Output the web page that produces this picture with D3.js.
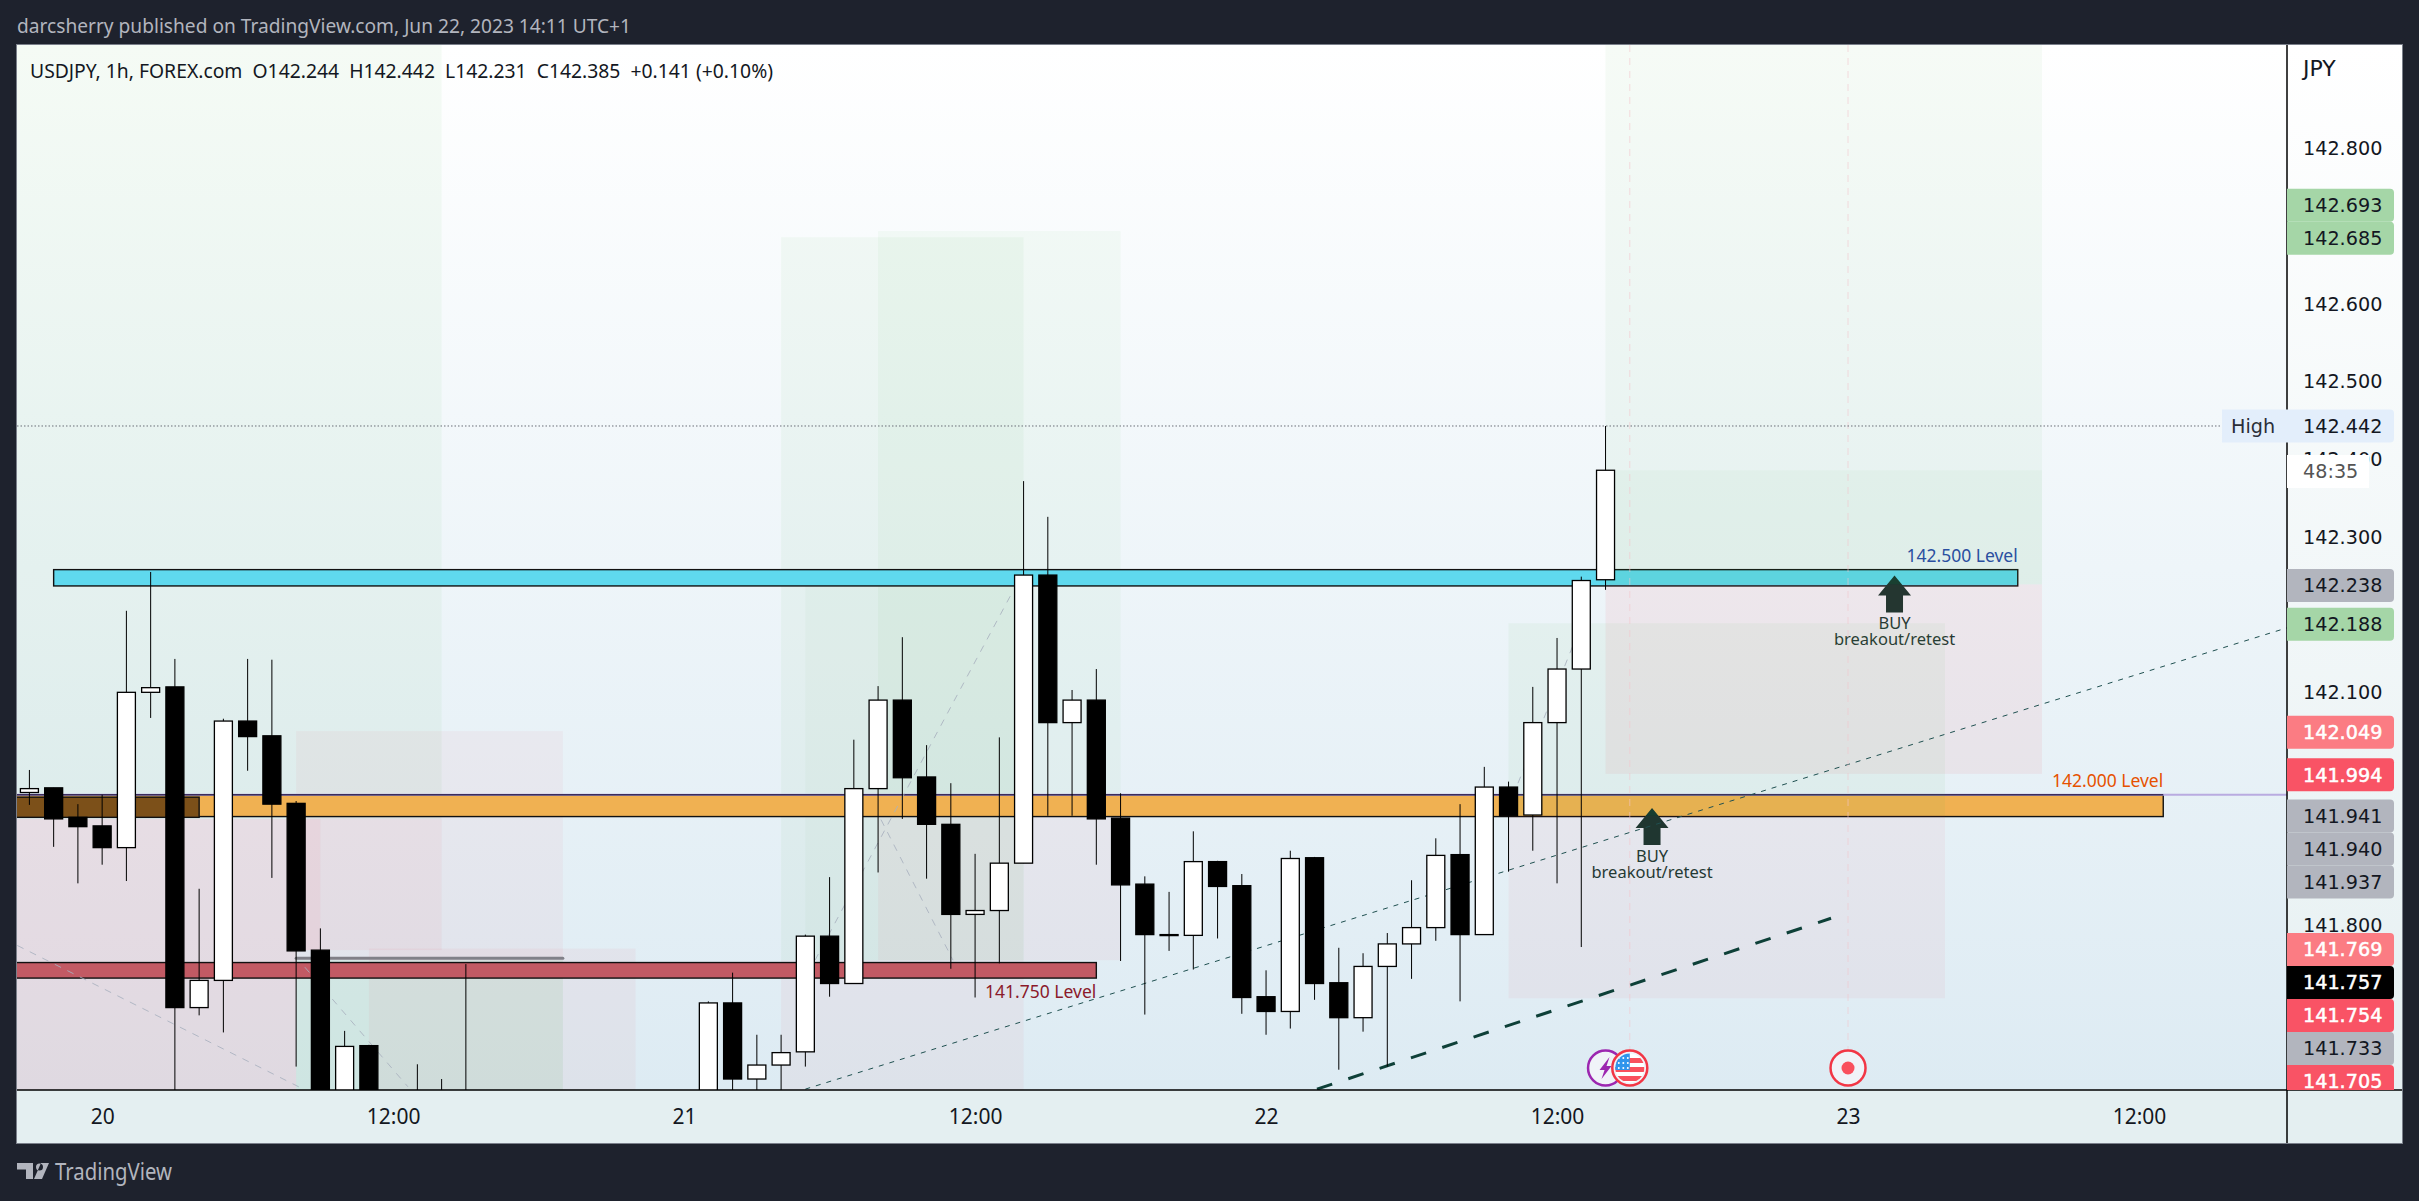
<!DOCTYPE html>
<html><head><meta charset="utf-8">
<script src="https://cdnjs.cloudflare.com/ajax/libs/d3/7.8.5/d3.min.js"></script>
<style>
html,body{margin:0;padding:0;background:#1e222d;overflow:hidden}
svg{display:block}
text{white-space:pre}
</style></head><body>
<svg id="c" width="2419" height="1201"></svg>
<script>
// ---------- data ----------
const opens=[141.970,141.976,141.938,141.927,141.899,142.099,142.106,141.693,141.728,142.062,142.043,141.956,141.767,141.56,141.644,141.56,141.50,141.52,141.50,141.55,141.52,141.49,141.46,141.50,141.53,141.51,141.52,141.54,141.55,141.699,141.601,141.619,141.636,141.785,141.724,141.975,142.089,141.990,141.929,141.813,141.818,141.879,142.250,142.060,142.089,141.937,141.852,141.787,141.786,141.881,141.850,141.707,141.688,141.886,141.725,141.680,141.746,141.775,141.796,141.890,141.787,141.977,141.941,142.060,142.129,142.244];
const highs=[141.999,141.976,141.955,141.967,142.204,142.254,142.142,141.846,142.065,142.142,142.141,141.959,141.795,141.663,141.645,141.575,141.620,141.601,141.749,141.58,141.56,141.53,141.52,141.56,141.57,141.55,141.56,141.58,141.701,141.738,141.658,141.658,141.787,141.861,142.038,142.107,142.170,142.031,141.982,141.891,142.041,142.371,142.325,142.102,142.129,141.969,141.862,141.842,141.920,141.882,141.865,141.741,141.895,141.887,141.770,141.763,141.789,141.857,141.911,141.955,142.003,141.984,142.106,142.169,142.248,142.442];
const lows=[141.954,141.900,141.853,141.877,141.856,142.066,141.55,141.683,141.661,141.998,141.860,141.617,141.53,141.54,141.53,141.47,141.47,141.46,141.48,141.50,141.47,141.44,141.43,141.47,141.49,141.48,141.50,141.51,141.52,141.56,141.56,141.57,141.617,141.707,141.724,141.867,141.936,141.859,141.743,141.706,141.750,141.879,141.940,141.940,141.877,141.753,141.684,141.766,141.742,141.782,141.685,141.658,141.666,141.703,141.613,141.662,141.617,141.730,141.779,141.701,141.787,141.868,141.895,141.853,141.771,142.231];
const closes=[141.975,141.936,141.926,141.899,142.099,142.105,141.693,141.728,142.062,142.042,141.955,141.766,141.56,141.643,141.56,141.50,141.52,141.50,141.55,141.52,141.49,141.46,141.50,141.53,141.51,141.52,141.54,141.55,141.699,141.601,141.619,141.635,141.785,141.724,141.975,142.089,141.989,141.929,141.813,141.818,141.879,142.250,142.060,142.089,141.936,141.851,141.787,141.786,141.881,141.849,141.706,141.688,141.885,141.724,141.680,141.746,141.775,141.796,141.889,141.787,141.977,141.940,142.060,142.129,142.243,142.385];

const timeTickBars=[3,15,27,39,51,63,75,87];
const timeTickLabels=["20","12:00","21","12:00","22","12:00","23","12:00"];
const priceTicks=[142.8,142.6,142.5,142.4,142.3,142.1,141.8];

const tagValues=["142.693","142.685","142.238","142.188","142.049","141.994","141.941","141.940","141.937","141.769","141.757","141.754","141.733","141.705"];
const tagKinds=["target","target","neutral","target","stopSoft","stop","neutral","neutral","neutral","stopSoft","last","stop","neutral","stop"];

// position-tool zones: [barFrom, barTo, priceTop, priceBottom, colour key, opacity]
const zonesBelowBands=[
 [-1,17,142.94,141.936,"g",.055],
 [-1,11,141.936,141.50,"r",.10],
 [11,12,141.936,141.767,"r",.10],
 [12,17,141.936,141.767,"r",.05],
 [11,22,142.049,141.754,"r",.045],
 [11,22,141.754,141.50,"g",.10],
 [14,25,141.769,141.50,"r",.05],
 [31,41,142.685,141.754,"g",.05],
 [31,41,141.754,141.50,"r",.05],
 [32,41,142.238,141.754,"g",.035],
 [35,45,142.693,141.940,"g",.045],
 [35,45,141.940,141.754,"r",.05]
];
const zonesAboveBands=[
 [65,83,142.94,142.238,"g",.05],
 [65,83,142.385,142.238,"g",.04],
 [65,83,142.238,141.994,"r",.07],
 [61,79,142.188,141.940,"g",.055],
 [61,79,141.940,141.705,"r",.05]
];
// horizontal levels: [barFrom, barTo, priceTop, priceBottom, fill]
const levelBands=[
 [-1,88,141.967,141.939,"#f0b152"],
 [-1,7,141.964,141.938,"#7c5019"],
 [-1,44,141.751,141.731,"#c25a64"],
 [1,82,142.257,142.236,"#5fd9ee"]
];
const levelTexts=[
 ["142.500 Level",82,142.273,"#2a4fa0"],
 ["142.000 Level",88,141.983,"#e65100"],
 ["141.750 Level",44,141.712,"#8b1a2b"]
];
const ghostLines=[
 [-0.5,141.773,11.36,141.587],
 [11.36,141.745,15.61,141.591],
 [32.4,141.754,40.52,142.227],
 [35.12,141.935,38.09,141.754],
 [61.39,141.982,63.74,142.166]
];
const trendThin=[32,141.588,93.1,142.182];
const trendThick=[53.1,141.588,74.3,141.808];
const buySignals=[[67,141.950],[77,142.2495]];
const sessionBars=[66,75];
const highPrice=142.442;
const stopLine=[11,22,141.7565];
const axisLevel=141.967;

// ---------- layout ----------
const W=2419,H=1201,L=17,T=45,R=2287,B=1090,FB=1143,FR=2402;
const x=d3.scaleLinear().domain([0,87]).range([29.4,2139]);
const y=d3.scaleLinear().domain([142.8,141.8]).range([148,924.5]);
const svg=d3.select("#c");
const UI="'Noto Sans',sans-serif", NUM="'DejaVu Sans',sans-serif";
const col={g:"#4caf50",r:"#f23645"};

const defs=svg.append("defs");
const mk=(id,a,b)=>{const g=defs.append("linearGradient").attr("id",id).attr("x1",0).attr("x2",0).attr("y1",0).attr("y2",1);
 g.append("stop").attr("offset",0).attr("stop-color",a);g.append("stop").attr("offset",1).attr("stop-color",b);};
mk("pane","#ffffff","#ddebf3");mk("axisbg","#ffffff","#e6f0f2");
defs.append("clipPath").attr("id","plot").append("rect").attr("x",L).attr("y",T).attr("width",R-L).attr("height",B-T);
defs.append("clipPath").attr("id","axclip").append("rect").attr("x",R).attr("y",T).attr("width",FR-R).attr("height",B-T);

// frame and backgrounds
svg.append("rect").attr("width",W).attr("height",H).attr("fill","#1e222d");
svg.append("rect").attr("x",L).attr("y",T).attr("width",R-L).attr("height",B-T).attr("fill","url(#pane)");
svg.append("rect").attr("x",R).attr("y",T).attr("width",FR-R).attr("height",B-T).attr("fill","url(#axisbg)");
svg.append("rect").attr("x",L).attr("y",B).attr("width",FR-L).attr("height",FB-B).attr("fill","#e4eff1");

const plot=svg.append("g").attr("clip-path","url(#plot)");
const drawZones=(arr)=>plot.append("g").selectAll("rect").data(arr).join("rect")
 .attr("x",d=>x(d[0])).attr("width",d=>x(d[1])-x(d[0])).attr("y",d=>y(d[2])).attr("height",d=>y(d[3])-y(d[2]))
 .attr("fill",d=>col[d[4]]).attr("fill-opacity",d=>d[5]);

drawZones(zonesBelowBands);

plot.append("line").attr("x1",x(stopLine[0])).attr("x2",x(stopLine[1])).attr("y1",y(stopLine[2])).attr("y2",y(stopLine[2]))
 .attr("stroke","#808088").attr("stroke-width",3).attr("stroke-linecap","round");

// level bands
plot.append("g").selectAll("rect").data(levelBands).join("rect")
 .attr("x",d=>x(d[0])).attr("width",d=>x(d[1])-x(d[0])).attr("y",d=>y(d[2])).attr("height",d=>y(d[3])-y(d[2]))
 .attr("fill",d=>d[4]).attr("stroke","#111").attr("stroke-width",1.4);
plot.append("line").attr("x1",L).attr("x2",R).attr("y1",y(axisLevel)).attr("y2",y(axisLevel))
 .attr("stroke","#b9abe0").attr("stroke-width",2);
plot.append("line").attr("x1",L).attr("x2",x(88)).attr("y1",y(axisLevel)).attr("y2",y(axisLevel))
 .attr("stroke","#3a2c5c").attr("stroke-width",1.6);

// buy signals
const sig=plot.append("g").selectAll("g").data(buySignals).join("g").attr("transform",d=>`translate(${x(d[0])-2},${y(d[1])})`);
sig.append("path").attr("d","M0,0L16.5,20L8.5,20L8.5,37L-8.5,37L-8.5,20L-16.5,20Z").attr("fill","#15362f");
sig.append("text").attr("y",54).attr("text-anchor","middle").attr("font-family",UI).attr("font-size",16.5).attr("fill","#173a33").text("BUY");
sig.append("text").attr("y",70).attr("text-anchor","middle").attr("font-family",UI).attr("font-size",16.5).attr("fill","#173a33").text("breakout/retest");

drawZones(zonesAboveBands);

// ghost dashed lines and trend lines
plot.append("g").selectAll("line").data(ghostLines).join("line")
 .attr("x1",d=>x(d[0])).attr("y1",d=>y(d[1])).attr("x2",d=>x(d[2])).attr("y2",d=>y(d[3]))
 .attr("stroke","#aab2c0").attr("stroke-width",1).attr("stroke-dasharray","7 7").attr("opacity",.85);
plot.append("line").attr("x1",x(trendThin[0])).attr("y1",y(trendThin[1])).attr("x2",x(trendThin[2])).attr("y2",y(trendThin[3]))
 .attr("stroke","#1f5050").attr("stroke-width",1).attr("stroke-dasharray","5 6");
plot.append("line").attr("x1",x(trendThick[0])).attr("y1",y(trendThick[1])).attr("x2",x(trendThick[2])).attr("y2",y(trendThick[3]))
 .attr("stroke","#0e4038").attr("stroke-width",3).attr("stroke-dasharray","16 17");

// session dashed verticals
plot.append("g").selectAll("line").data(sessionBars).join("line")
 .attr("x1",d=>x(d)).attr("x2",d=>x(d)).attr("y1",T).attr("y2",B-40)
 .attr("stroke","#f2c4cc").attr("stroke-width",1).attr("stroke-opacity",.6).attr("stroke-dasharray","7 6");

// high line
plot.append("line").attr("x1",L).attr("x2",R).attr("y1",y(highPrice)).attr("y2",y(highPrice))
 .attr("stroke","#6a6d78").attr("stroke-width",1).attr("stroke-dasharray","1.5 2");

// candles
const bars=opens.map((o,i)=>({i,o,h:highs[i],l:lows[i],c:closes[i]}));
const cg=plot.append("g").selectAll("g").data(bars).join("g");
cg.append("line").attr("x1",d=>x(d.i)).attr("x2",d=>x(d.i)).attr("y1",d=>y(d.h)).attr("y2",d=>y(d.l)).attr("stroke","#000").attr("stroke-width",1);
cg.append("rect").attr("x",d=>x(d.i)-9).attr("width",18)
 .attr("y",d=>y(Math.max(d.o,d.c))).attr("height",d=>Math.max(1,Math.abs(y(d.o)-y(d.c))))
 .attr("fill",d=>d.c>=d.o?"#fff":"#000").attr("stroke","#000").attr("stroke-width",1.3);

// level texts
plot.append("g").selectAll("text").data(levelTexts).join("text")
 .attr("x",d=>x(d[1])).attr("y",d=>y(d[2])).attr("text-anchor","end").attr("dominant-baseline","middle")
 .attr("font-family",UI).attr("font-size",17.5).attr("fill",d=>d[3]).text(d=>d[0]);

// event icons
const iconY=B-22;
const icon=(cx,stroke)=>plot.append("circle").attr("cx",cx).attr("cy",iconY).attr("r",17.5).attr("fill","#f0f3f8").attr("stroke",stroke).attr("stroke-width",2.5);
icon(x(65),"#9c27b0");
plot.append("path").attr("transform",`translate(${x(65)},${iconY})`).attr("d","M4,-11L-6,2L-1,2L-4,11L6,-2L1,-2Z").attr("fill","#9c27b0");
icon(x(66),"#f23645");
defs.append("clipPath").attr("id","flag").append("circle").attr("cx",x(66)).attr("cy",iconY).attr("r",14.5);
const fl=plot.append("g").attr("clip-path","url(#flag)");
fl.append("rect").attr("x",x(66)-15).attr("y",iconY-15).attr("width",30).attr("height",30).attr("fill","#fff");
[-10,-1,8].forEach(o=>fl.append("rect").attr("x",x(66)-15).attr("y",iconY+o).attr("width",30).attr("height",5).attr("fill","#f9505d"));
fl.append("rect").attr("x",x(66)-15).attr("y",iconY-15).attr("width",15).attr("height",17).attr("fill","#2f95ec");
d3.range(3).forEach(r=>d3.range(3).forEach(c=>fl.append("circle").attr("cx",x(66)-11+c*4.5).attr("cy",iconY-10+r*5).attr("r",1).attr("fill","#fff")));
icon(x(75),"#f23645");
plot.append("circle").attr("cx",x(75)).attr("cy",iconY).attr("r",6.5).attr("fill","#f9505d");

// price axis
const yAxis=d3.axisRight(y).tickValues(priceTicks).tickSize(0).tickPadding(0).tickFormat(d3.format(".3f"));
const ax=svg.append("g").attr("transform",`translate(${R+16},0)`).call(yAxis);
ax.select(".domain").remove();
ax.selectAll("text").attr("font-family",NUM).attr("font-size",19.2).attr("fill","#131722").attr("dy","0.36em");
svg.append("text").attr("x",R+16).attr("y",76).attr("font-family",NUM).attr("font-size",22).attr("fill","#131722").text("JPY");

// time axis
const xAxis=d3.axisBottom(x).tickValues(timeTickBars).tickSize(0).tickPadding(0).tickFormat((d,i)=>timeTickLabels[i]);
const tx=svg.append("g").attr("transform",`translate(0,${B+26})`).call(xAxis);
tx.select(".domain").remove();
tx.selectAll("text").attr("font-family",UI).attr("font-size",21).attr("fill","#131722").attr("dy","0.36em");

// axis lines
svg.append("line").attr("x1",L).attr("x2",FR).attr("y1",B).attr("y2",B).attr("stroke","#000").attr("stroke-width",1.5);
svg.append("line").attr("x1",R).attr("x2",R).attr("y1",T).attr("y2",FB).attr("stroke","#000").attr("stroke-width",1.5);

// price tags, stacked so they never overlap
const tagH=33, tagFill={target:"#a5d6a7",neutral:"#b2b5be",stop:"#f95365",stopSoft:"#fb7c83",last:"#000"};
const tagInk={target:"#131722",neutral:"#131722",stop:"#fff",stopSoft:"#fff",last:"#fff"};
const tags=tagValues.map((v,i)=>({v,k:tagKinds[i],y:y(+v)+1}));
let clusters=[];
tags.forEach(t=>{const c=clusters[clusters.length-1];
 if(c&&t.y-c[c.length-1].y<tagH)c.push(t);else clusters.push([t]);});
clusters.forEach(c=>{
 if(c.length===2){c[0].y=c[1].y-tagH;}
 else c.forEach((t,i)=>{t.y=c[0].y+i*tagH;});
});
const tg=svg.append("g").attr("clip-path","url(#axclip)").selectAll("g").data(tags).join("g").attr("transform",d=>`translate(${R},${d.y})`);
tg.append("path").attr("d",`M0,${-tagH/2}H103a4,4 0 0 1 4,4V${tagH/2-4}a4,4 0 0 1 -4,4H0Z`).attr("fill",d=>tagFill[d.k]);
tg.append("text").attr("x",16).attr("dy","0.36em").attr("font-family",NUM).attr("font-size",19.2)
 .attr("stroke",d=>tagInk[d.k]==="#fff"?"#fff":"none").attr("stroke-width",.5).attr("fill",d=>tagInk[d.k]).text(d=>d.v);

// High chip
const hy=y(highPrice);
svg.append("path").attr("d",`M${R-65},${hy-16.5}H${R+103}a4,4 0 0 1 4,4V${hy+12.5}a4,4 0 0 1 -4,4H${R-65}Z`).attr("fill","#e3eefb");
svg.append("text").attr("x",R-56).attr("y",hy).attr("dy","0.36em").attr("font-family",NUM).attr("font-size",19.2).attr("fill","#2a2e39").text("High");
svg.append("text").attr("x",R+16).attr("y",hy).attr("dy","0.36em").attr("font-family",NUM).attr("font-size",19.2).attr("fill","#131722").text("142.442");
// countdown chip
svg.append("rect").attr("x",R).attr("y",455).attr("width",82).attr("height",33).attr("fill","#fff");
svg.append("text").attr("x",R+16).attr("y",471.5).attr("dy","0.36em").attr("font-family",NUM).attr("font-size",19.2).attr("fill","#555").text("48:35");

// frame border
svg.append("rect").attr("x",L-.5).attr("y",T-.5).attr("width",FR-L+1).attr("height",FB-T+1).attr("fill","none").attr("stroke","#7a7f8a").attr("stroke-width",1);

// header, legend, footer
svg.append("text").attr("x",17).attr("y",33).attr("font-family",UI).attr("font-size",19).attr("fill","#b2b5be").attr("textLength",614).attr("lengthAdjust","spacingAndGlyphs").text("darcsherry published on TradingView.com, Jun 22, 2023 14:11 UTC+1");
svg.append("text").attr("x",30).attr("y",78).attr("font-family",UI).attr("font-size",19).attr("fill","#131722").attr("textLength",743).attr("lengthAdjust","spacingAndGlyphs").text("USDJPY, 1h, FOREX.com  O142.244  H142.442  L142.231  C142.385  +0.141 (+0.10%)");
svg.append("path").attr("d","M17,1163H33V1179H26V1169.5H17Z M36,1167a3.5,3.5 0 1 0 7,0a3.5,3.5 0 1 0 -7,0Z M41,1163H49L42,1179H34Z").attr("fill","#b2b5be");
svg.append("text").attr("x",55).attr("y",1180).attr("font-family",UI).attr("font-size",23).attr("fill","#b2b5be").attr("textLength",117).attr("lengthAdjust","spacingAndGlyphs").text("TradingView");
</script>
</body></html>
